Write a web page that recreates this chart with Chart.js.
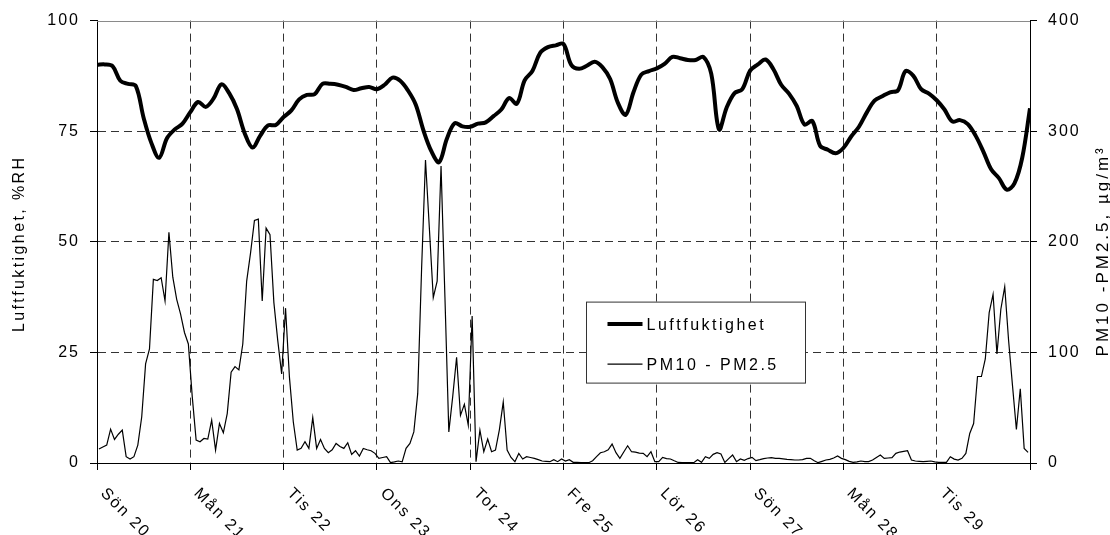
<!DOCTYPE html>
<html>
<head>
<meta charset="utf-8">
<script src="https://cdn.jsdelivr.net/npm/chart.js@4/dist/chart.umd.min.js"></script>
<style>
  html, body { margin: 0; padding: 0; background: #fff; }
  #wrap { width: 1110px; height: 535px; position: relative; }
</style>
</head>
<body>
<div id="wrap"><canvas id="chart"></canvas></div>
<script>
// --- data ---
const dayLabels = ['Sön 20', 'Mån 21', 'Tis 22', 'Ons 23', 'Tor 24', 'Fre 25', 'Lör 26', 'Sön 27', 'Mån 28', 'Tis 29'];
const HOURS_PER_DAY = 24;
const HUM_STEP = 2; // humidity read every 2 hours

// Luftfuktighet, %RH (every 2 h, from Sön 20 00:00)
const humidity = [
  90.0, 90.1, 89.7, 86.4, 85.7, 85.2, 78.0, 72.3, 69.0, 73.4, 75.4, 76.7,
  79.3, 81.6, 80.5, 82.4, 85.6, 83.6, 80.0, 74.5, 71.3, 74.0, 76.3, 76.4,
  78.2, 79.7, 82.2, 83.2, 83.4, 85.7, 85.7, 85.5, 85.0, 84.3, 84.7, 85.0,
  84.5, 85.5, 87.1, 86.4, 84.2, 81.0, 75.1, 70.5, 68.0, 73.3, 76.8, 76.1,
  76.0, 76.7, 77.0, 78.4, 79.9, 82.5, 81.2, 86.5, 88.6, 92.7, 94.0, 94.4,
  94.7, 90.0, 89.1, 89.8, 90.7, 89.5, 86.8, 81.4, 78.7, 83.8, 87.8, 88.6,
  89.2, 90.2, 91.8, 91.5, 91.1, 91.1, 91.8, 88.0, 75.4, 80.4, 83.6, 84.5,
  88.7, 90.1, 91.2, 89.0, 85.5, 83.5, 80.7, 76.5, 77.3, 71.7, 70.8, 70.0,
  71.2, 73.8, 76.0, 79.2, 81.9, 82.9, 83.8, 84.2, 88.6, 87.5, 84.5, 83.5,
  82.0, 79.9, 77.2, 77.5, 76.6, 74.0, 70.4, 66.4, 64.4, 61.8, 63.2, 69.0,
  80.2
];

// PM10 - PM2.5, ug/m3 (hourly, one row per day)
const pmCoarse = [
  12.6, 14.5, 16.2, 30.6, 21.3, 26, 29.7, 5.7, 3.6, 5.7, 16.2, 41.6, 89.6, 103.1, 166, 165, 167.5, 146.5, 208.5, 168, 148, 134.6, 118, 107.6,
  60, 20.7, 19.2, 22.2, 21.6, 38.7, 11.7, 35.7, 27.3, 44.7, 82.1, 87.2, 84.2, 107.6, 164.5, 190, 219.3, 220.5, 146.5, 212.4, 206.5, 145, 110.6, 80.6,
  140, 77.6, 37.1, 11.7, 13.2, 19.2, 13.2, 41, 13.2, 21.3, 13.2, 9.3, 12, 17.7, 15, 13.2, 18.3, 7.8, 11.1, 6.3, 13.2, 12, 11.1, 8.7,
  4.2, 5, 5.7, 0.3, 1, 1.8, 1, 13.2, 17.7, 28.1, 62.7, 176, 273.9, 212, 149.5, 164.5, 268.5, 150, 28.1, 60, 95.6, 43.1, 53, 34.2,
  133, 1.2, 29.7, 10.2, 21.6, 10.2, 11.7, 30, 55.1, 11.7, 5, 1.2, 8.7, 3.6, 5.7, 5, 4.2, 3, 1.8, 1.5, 1.2, 3, 1.2, 3.6,
  1.8, 3, 0.6, 0.5, 0.3, 0.3, 0.3, 2, 5.7, 9.3, 10.2, 12, 17.1, 9.3, 4.2, 10, 15.6, 10.2, 9.9, 9, 8.7, 5.7, 10.2, 1.2,
  1.2, 5.1, 4, 3.6, 2, 0.5, 0.3, 0.3, 0.3, 0.3, 3, 0.6, 5.7, 4.2, 7.8, 9.3, 8.1, 0.5, 4, 7.2, 1.2, 3.6, 2.4, 4,
  5.1, 2.1, 3, 4, 4.5, 4.8, 4.2, 4.2, 3.8, 3.3, 3, 2.7, 2.7, 3, 4.2, 4.2, 2, 0.3, 1.5, 2.7, 3.3, 4.5, 6.3, 4.2,
  3, 1.5, 0.6, 1, 1.8, 1.2, 1.2, 2.7, 5, 7.2, 4.2, 4.5, 4.8, 8.7, 9.9, 10.5, 11.1, 2.7, 1.8, 1.5, 1.2, 1.5, 1.8, 1,
  0.6, 0.6, 0.6, 5.7, 3.5, 2.7, 4.2, 8.7, 26.7, 35.7, 78.2, 78.2, 94.1, 136, 152.5, 98.6, 139, 159.4, 110.6, 70, 30.3, 67.1, 13.2, 9.6
];

const seriesNames = ['Luftfuktighet', 'PM10 - PM2.5'];
const leftTitle = 'Luftfuktighet, %RH';
const rightTitle = 'PM10 -PM2.5, µg/m³';

const FONT = "'Liberation Sans', Arial, sans-serif";
const SPACING = '2px';
const TOTAL_HOURS = dayLabels.length * HOURS_PER_DAY;

const humPoints = humidity.map((v, i) => ({ x: i * HUM_STEP, y: v }));
const pmPoints = pmCoarse.map((v, i) => ({ x: i + 0.5, y: v }));

// text, legend and top frame drawn by hand
const decor = {
  id: 'decor',
  beforeDraw(chart) {
    chart.ctx.letterSpacing = SPACING;
  },
  afterDraw(chart) {
    const { ctx, chartArea: a, scales } = chart;
    ctx.save();
    ctx.letterSpacing = SPACING;

    // top frame line
    ctx.strokeStyle = '#8a8a8a';
    ctx.lineWidth = 1;
    ctx.beginPath();
    ctx.moveTo(a.left, Math.round(a.top) + 0.5);
    ctx.lineTo(a.right, Math.round(a.top) + 0.5);
    ctx.stroke();

    ctx.fillStyle = '#000';
    ctx.font = '16px ' + FONT;

    // rotated day labels
    dayLabels.forEach((lab, i) => {
      const x = scales.x.getPixelForValue(i * HOURS_PER_DAY);
      ctx.save();
      ctx.translate(x + 6, a.bottom + 28);
      ctx.rotate(Math.PI / 4);
      ctx.textAlign = 'left';
      ctx.textBaseline = 'middle';
      ctx.fillText(lab, 0, 0);
      ctx.restore();
    });

    // axis titles
    const midY = (a.top + a.bottom) / 2;
    ctx.save();
    ctx.letterSpacing = '2.4px';
    ctx.translate(24, midY + 2);
    ctx.rotate(-Math.PI / 2);
    ctx.textAlign = 'center';
    ctx.textBaseline = 'alphabetic';
    ctx.fillText(leftTitle, 0, 0);
    ctx.restore();

    ctx.save();
    ctx.letterSpacing = '3px';
    ctx.font = '17px ' + FONT;
    ctx.translate(1108, midY + 9);
    ctx.rotate(-Math.PI / 2);
    ctx.textAlign = 'center';
    ctx.textBaseline = 'alphabetic';
    ctx.fillText(rightTitle, 0, 0);
    ctx.restore();

    // legend box
    const lx = a.left + 489.5, ly = a.top + 281.5, lw = 219, lh = 81;
    ctx.fillStyle = '#fff';
    ctx.fillRect(lx, ly, lw, lh);
    ctx.strokeStyle = '#333';
    ctx.lineWidth = 1;
    ctx.strokeRect(lx, ly, lw, lh);

    ctx.letterSpacing = '2.5px';
    const rows = [{ w: 4, dy: 22 }, { w: 1.2, dy: 62 }];
    rows.forEach((r, i) => {
      ctx.strokeStyle = '#000';
      ctx.lineWidth = r.w;
      ctx.beginPath();
      ctx.moveTo(lx + 21, ly + r.dy);
      ctx.lineTo(lx + 56, ly + r.dy);
      ctx.stroke();
      ctx.fillStyle = '#000';
      ctx.textAlign = 'left';
      ctx.textBaseline = 'middle';
      ctx.fillText(seriesNames[i], lx + 60, ly + r.dy + 1);
    });

    ctx.restore();
  }
};

const gridColor = '#333';

new Chart(document.getElementById('chart'), {
  type: 'line',
  data: {
    datasets: [
      {
        label: seriesNames[0],
        data: humPoints,
        yAxisID: 'y',
        borderColor: '#000',
        borderWidth: 4,
        pointRadius: 0,
        tension: 0.35,
        fill: false
      },
      {
        label: seriesNames[1],
        data: pmPoints,
        yAxisID: 'y1',
        borderColor: '#000',
        borderWidth: 1.2,
        pointRadius: 0,
        tension: 0,
        fill: false
      }
    ]
  },
  options: {
    responsive: true,
    maintainAspectRatio: false,
    animation: false,
    devicePixelRatio: 1,
    layout: { padding: { top: 18, left: 0, right: 0, bottom: 0 } },
    plugins: { legend: { display: false }, tooltip: { enabled: false } },
    scales: {
      x: {
        type: 'linear',
        min: 0,
        max: TOTAL_HOURS,
        afterFit: (s) => { s.height = 72; },
        ticks: { display: false, stepSize: HOURS_PER_DAY },
        grid: {
          color: gridColor,
          lineWidth: 1,
          drawTicks: true,
          tickLength: 7,
          tickColor: '#000',
          tickBorderDash: []
        },
        border: { display: true, color: '#000', width: 1, dash: [8, 5] }
      },
      y: {
        position: 'left',
        min: 0,
        max: 100,
        afterFit: (s) => { s.width = 97; },
        ticks: {
          stepSize: 25,
          padding: 10,
          color: '#000',
          font: { family: FONT, size: 16 }
        },
        grid: {
          color: (c) => (c.tick && c.tick.value === 100 ? 'rgba(0,0,0,0)' : gridColor),
          lineWidth: 1,
          drawTicks: true,
          tickLength: 7,
          tickColor: '#000',
          tickBorderDash: []
        },
        border: { display: true, color: '#000', width: 1, dash: [8, 5] }
      },
      y1: {
        position: 'right',
        min: 0,
        max: 400,
        afterFit: (s) => { s.width = 80; },
        ticks: {
          stepSize: 100,
          padding: 11,
          color: '#000',
          font: { family: FONT, size: 16 }
        },
        grid: {
          drawOnChartArea: false,
          drawTicks: true,
          tickLength: 7,
          tickColor: '#000'
        },
        border: { display: true, color: '#000', width: 1 }
      }
    }
  },
  plugins: [decor]
});
</script>
</body>
</html>
